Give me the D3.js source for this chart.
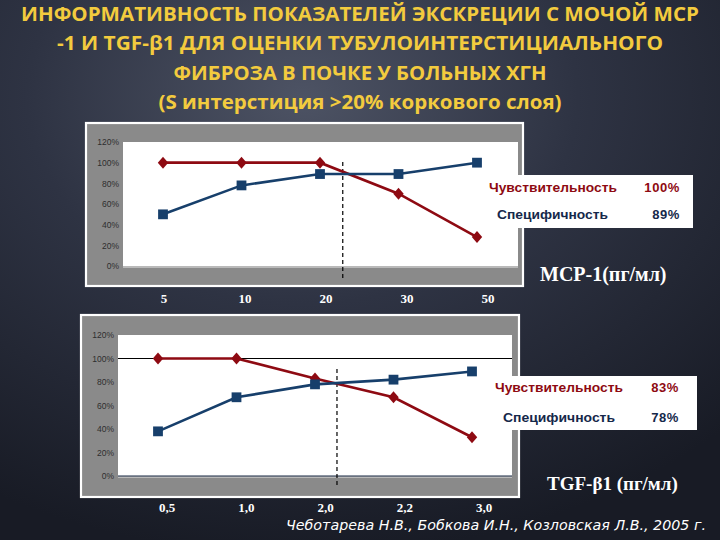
<!DOCTYPE html>
<html><head><meta charset="utf-8">
<script src="https://cdn.jsdelivr.net/npm/d3@7"></script>
<style>html,body{margin:0;padding:0;background:#1e212c;overflow:hidden}</style>
</head><body><svg id="c" width="720" height="540"></svg>
<script>
// ---- data ----
const titleLines = [
  "ИНФОРМАТИВНОСТЬ ПОКАЗАТЕЛЕЙ ЭКСКРЕЦИИ С МОЧОЙ МСР",
  "-1 И TGF-β1 ДЛЯ ОЦЕНКИ ТУБУЛОИНТЕРСТИЦИАЛЬНОГО",
  "ФИБРОЗА В ПОЧКЕ У  БОЛЬНЫХ ХГН",
  "(S интерстиция >20% коркового слоя)"
];
const mcpCategories = ["5", "10", "20", "30", "50"];
const mcpSensitivity = [1.00, 1.00, 1.00, 0.70, 0.28];
const mcpSpecificity = [0.50, 0.78, 0.89, 0.89, 1.00];
const tgfCategories = ["0,5", "1,0", "2,0", "2,2", "3,0"];
const tgfSensitivity = [1.00, 1.00, 0.83, 0.67, 0.33];
const tgfSpecificity = [0.38, 0.67, 0.78, 0.82, 0.89];
const yTicks = [0, 0.2, 0.4, 0.6, 0.8, 1.0, 1.2];
const legendLabels = ["Чувствительность", "Специфичность"];
const mcpSummary = ["100%", "89%"];
const tgfSummary = ["83%", "78%"];
const mcpUnit = "MCP-1(пг/мл)";
const tgfUnit = "TGF-β1 (пг/мл)";
const mcpCutoff = 2.29;   // position in category units (between 20 and 30)
const tgfCutoff = 2.28;   // between 2,0 and 2,2
const citation = "Чеботарева Н.В., Бобкова И.Н., Козловская Л.В., 2005 г.";

// ---- layout / style ----
const RED = "#8e0a12", BLUE = "#173f6b";
const svg = d3.select("#c");
const defs = svg.append("defs");
const rg = defs.append("radialGradient").attr("id", "bg")
  .attr("cx", "42%").attr("cy", "18%").attr("r", "85%");
rg.append("stop").attr("offset", "0%").attr("stop-color", "#4d5364");
rg.append("stop").attr("offset", "45%").attr("stop-color", "#2e3343");
rg.append("stop").attr("offset", "100%").attr("stop-color", "#181b25");
svg.append("rect").attr("width", 720).attr("height", 540).attr("fill", "url(#bg)");

// title
const titleWidths = [678, 606, 373, 403];
svg.append("g").selectAll("text").data(titleLines).join("text")
  .attr("x", 360).attr("y", (d, i) => 21 + i * 29.3)
  .attr("text-anchor", "middle")
  .attr("font-family", "'Open Sans', 'Liberation Sans', sans-serif")
  .attr("font-weight", "bold").attr("font-size", 20)
  .attr("fill", "#f3cb3e")
  .attr("textLength", (d, i) => titleWidths[i])
  .attr("lengthAdjust", "spacingAndGlyphs")
  .text(d => d);

const diamond = {
  draw(ctx, size) {
    const w = 5.2, h = 6;
    ctx.moveTo(0, -h); ctx.lineTo(w, 0); ctx.lineTo(0, h); ctx.lineTo(-w, 0); ctx.closePath();
  }
};

function drawPanel(cfg) {
  const g = svg.append("g");
  // outer gray panel
  g.append("rect").attr("x", cfg.outer[0]).attr("y", cfg.outer[1])
    .attr("width", cfg.outer[2] - cfg.outer[0]).attr("height", cfg.outer[3] - cfg.outer[1])
    .attr("fill", "#8a8a8a").attr("stroke", "#ffffff").attr("stroke-width", 2.2);
  const [px0, py0, px1, py1] = cfg.plot;
  g.append("rect").attr("x", px0).attr("y", py0).attr("width", px1 - px0).attr("height", py1 - py0)
    .attr("fill", "#ffffff");
  g.append("line").attr("x1", px0).attr("x2", px1).attr("y1", py1 + 1).attr("y2", py1 + 1)
    .attr("stroke", "#c8c8c8").attr("stroke-width", 1.5);

  const x = d3.scalePoint().domain(cfg.cats).range(cfg.xRange);
  const y = d3.scaleLinear().domain([0, 1.2]).range([py1, py0]);

  // y axis
  const ax = g.append("g").attr("transform", `translate(${cfg.tickX},0)`)
    .call(d3.axisLeft(y).tickValues(yTicks).tickFormat(d3.format(".0%")).tickSize(0).tickPadding(0));
  ax.select(".domain").remove();
  ax.selectAll("text").attr("font-family", "'Liberation Sans', Arial, sans-serif")
    .attr("font-size", 8.5).attr("fill", "#2e2e2e").attr("dy", "0.35em");

  if (cfg.refLines) {
    [1.0, 0].forEach(v => {
      g.append("line").attr("x1", px0).attr("x2", px1).attr("y1", y(v)).attr("y2", y(v))
        .attr("stroke", v === 0 ? "#1a2a44" : "#000").attr("stroke-width", 1.2);
    });
  }

  // cutoff dashed line
  const step = x.step();
  const cx = x(cfg.cats[0]) + cfg.cutoff * step;
  g.append("line").attr("x1", cx).attr("x2", cx).attr("y1", cfg.dashY[0]).attr("y2", cfg.dashY[1])
    .attr("stroke", "#000").attr("stroke-width", 1.2).attr("stroke-dasharray", "4,3");

  const line = d3.line().x((d, i) => x(cfg.cats[i])).y(d => y(d));
  g.append("path").datum(cfg.sens).attr("d", line).attr("fill", "none")
    .attr("stroke", RED).attr("stroke-width", 2.6);
  g.append("path").datum(cfg.spec).attr("d", line).attr("fill", "none")
    .attr("stroke", BLUE).attr("stroke-width", 2.6);

  g.append("g").selectAll("path").data(cfg.sens).join("path")
    .attr("transform", (d, i) => `translate(${x(cfg.cats[i])},${y(d)})`)
    .attr("d", d3.symbol().type(diamond)).attr("fill", RED);
  g.append("g").selectAll("path").data(cfg.spec).join("path")
    .attr("transform", (d, i) => `translate(${x(cfg.cats[i])},${y(d)})`)
    .attr("d", d3.symbol().type(d3.symbolSquare).size(96)).attr("fill", BLUE);

  // category labels below panel
  const xl = d3.scalePoint().domain(cfg.cats).range(cfg.labelRange);
  g.append("g").selectAll("text").data(cfg.cats).join("text")
    .attr("x", d => xl(d)).attr("y", cfg.labelY).attr("text-anchor", "middle")
    .attr("font-family", "'Liberation Serif', 'Times New Roman', serif")
    .attr("font-weight", "bold").attr("font-size", 13).attr("fill", "#ffffff")
    .text(d => d);

  // legend box
  const [lx0, ly0, lx1, ly1] = cfg.legend;
  g.append("rect").attr("x", lx0).attr("y", ly0).attr("width", lx1 - lx0).attr("height", ly1 - ly0)
    .attr("fill", "#ffffff");
  const colors = [RED, "#15284a"];
  legendLabels.forEach((t, i) => {
    g.append("text").attr("x", cfg.legendTextX[i]).attr("y", cfg.legendY[i])
      .attr("font-family", "'Liberation Sans', Arial, sans-serif").attr("font-weight", "bold")
      .attr("font-size", 13).attr("fill", colors[i])
      .attr("textLength", cfg.legendTextW[i]).attr("lengthAdjust", "spacingAndGlyphs").text(t);
    g.append("text").attr("x", cfg.summaryX).attr("y", cfg.legendY[i]).attr("text-anchor", "end")
      .attr("font-family", "'Liberation Sans', Arial, sans-serif").attr("font-weight", "bold")
      .attr("font-size", 13).attr("fill", colors[i]).attr("letter-spacing", 0.6)
      .text(cfg.summary[i]);
  });

  g.append("text").attr("x", cfg.unitPos[0]).attr("y", cfg.unitPos[1])
    .attr("font-family", "'Liberation Serif', 'Times New Roman', serif").attr("font-weight", "bold")
    .attr("font-size", cfg.unitSize).attr("fill", "#ffffff").text(cfg.unit);
}

drawPanel({
  cats: mcpCategories, sens: mcpSensitivity, spec: mcpSpecificity,
  outer: [86, 123, 523, 286], plot: [123, 142, 518, 266],
  xRange: [163, 477], tickX: 119, refLines: false,
  cutoff: mcpCutoff, dashY: [162, 281],
  labelRange: [164, 488], labelY: 303,
  legend: [484, 175, 693, 228], legendTextX: [489, 497], legendTextW: [128, 111],
  legendY: [192, 219], summaryX: 680, summary: mcpSummary,
  unit: mcpUnit, unitPos: [540, 281], unitSize: 20
});
drawPanel({
  cats: tgfCategories, sens: tgfSensitivity, spec: tgfSpecificity,
  outer: [81, 315, 519, 497], plot: [118, 335, 512, 476],
  xRange: [158, 472], tickX: 114, refLines: true,
  cutoff: tgfCutoff, dashY: [369, 487],
  labelRange: [167, 484], labelY: 512,
  legend: [488, 376, 697, 430], legendTextX: [495, 503], legendTextW: [128, 112],
  legendY: [392, 422], summaryX: 679, summary: tgfSummary,
  unit: tgfUnit, unitPos: [547, 490], unitSize: 19
});

svg.append("text").attr("x", 286).attr("y", 530)
  .attr("font-family", "'DejaVu Sans', 'Liberation Sans', sans-serif").attr("font-style", "italic")
  .attr("font-size", 14.5).attr("fill", "#ffffff")
  .attr("textLength", 420).attr("lengthAdjust", "spacingAndGlyphs")
  .text(citation);
</script>
</body></html>
